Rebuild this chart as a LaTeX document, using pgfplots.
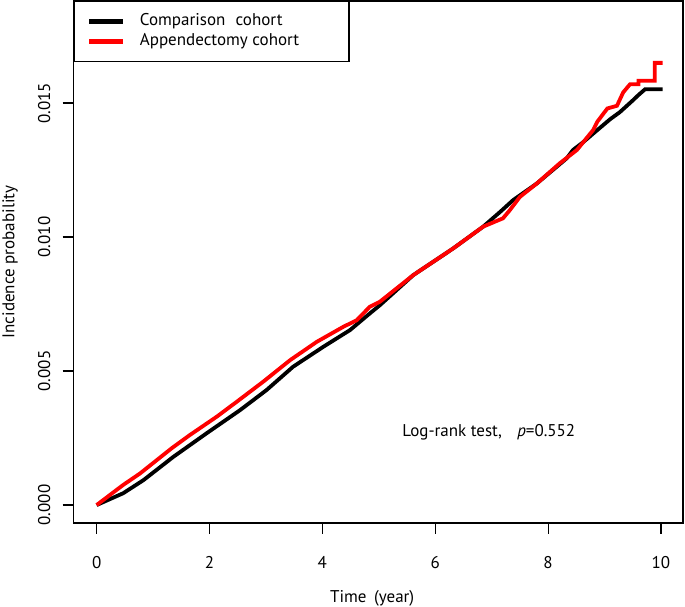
\documentclass[border=0pt]{standalone}
\usepackage{fontspec}
\setmainfont{PT Sans}
\usepackage{pgfplots}
\pgfplotsset{compat=1.18}
\begin{document}
\fontsize{17}{20}\selectfont
\begin{tikzpicture}
\useasboundingbox (-73.5pt,-84pt) rectangle (611.5pt,523pt);
\begin{axis}[
 at={(0pt,0pt)}, anchor=south west,
 scale only axis, width=609.5pt, height=522pt,
 xmin=-0.41, xmax=10.39, ymin=-0.00067, ymax=0.01881,
 axis line style={line width=1.2pt},
 tick align=outside, major tick length=11pt,
 tick style={line width=1.2pt, black},
 xtick pos=bottom, ytick pos=left,
 /pgf/number format/assume math mode=true,
 xtick={0,2,4,6,8,10}, ytick={0,0.005,0.010,0.015},
 xticklabels={0,2,4,6,8,10},
 yticklabels={0.000,0.005,0.010,0.015},
 scaled y ticks=false,
 xticklabel style={inner sep=0pt, anchor=north},
 yticklabel style={inner sep=0pt, rotate=90, anchor=south},
 xticklabel shift=22pt,
 yticklabel shift=12pt,
 xlabel={Time\hspace{0.45em}(year)},
 ylabel={Incidence probability},
 xlabel style={at={(axis description cs:0.49,0)}, anchor=center, yshift=-75pt},
 ylabel style={at={(axis description cs:-0.1042,0.5)}, anchor=center},
 legend style={at={(0,1)}, anchor=north west, draw=black, line width=1.2pt,
   inner xsep=0pt, inner ysep=12pt, row sep=4pt,
   nodes={inner sep=0pt, text height=12pt, text depth=4pt}},
 legend cell align=left,
 legend image code/.code={\path (0pt,0pt); \draw[#1, line width=4.5pt] (13pt,0pt) -- (47pt,0pt); \path (62pt,0pt);},
 clip=false,
]
\addplot[black, line width=3.8pt] coordinates {
(0,0) (0.47,0.00044) (0.83,0.00093) (1.36,0.0018) (1.95,0.00268) (2.54,0.00354)
(3.01,0.00429) (3.48,0.00516) (4.02,0.00591) (4.49,0.00653) (4.84,0.00715)
(5.02,0.00746) (5.61,0.00858) (6.32,0.00958) (6.85,0.01039) (7.15,0.01094)
(7.38,0.01138) (7.8,0.0120) (8.33,0.01294) (8.44,0.01325) (8.62,0.01354)
(8.87,0.01399) (9.1,0.0144) (9.27,0.01466) (9.5,0.0151) (9.6,0.0153) (9.72,0.01552) (10.03,0.01552)
};
\addlegendentry{Comparison\hspace{0.6em}cohort}
\addplot[red, line width=3.8pt] coordinates {
(0,0) (0.47,0.00075) (0.77,0.00118) (1.33,0.00212) (1.65,0.00261) (2.13,0.0033)
(2.48,0.00385) (2.95,0.0046) (3.43,0.00541) (3.9,0.00609) (4.37,0.00665)
(4.61,0.0069) (4.84,0.0074) (5.02,0.00759) (5.61,0.00858) (6.32,0.00958)
(6.85,0.01039) (7.2,0.0107) (7.32,0.0110) (7.5,0.0115) (7.8,0.0120)
(8.21,0.01276) (8.51,0.01325) (8.8,0.0140) (8.87,0.0143) (9.05,0.0148)
(9.22,0.0149) (9.33,0.0154) (9.45,0.0157) (9.6,0.0157) (9.6,0.01583)
(9.89,0.01583) (9.89,0.0165) (10.03,0.0165)
};
\addlegendentry{\makebox[209pt][l]{Appendectomy cohort}}
\node[anchor=center] at (axis cs:6.95,0.00272) {Log-rank test,\hspace{0.9em}\textit{p}=0.552};
\end{axis}
\end{tikzpicture}
\end{document}
